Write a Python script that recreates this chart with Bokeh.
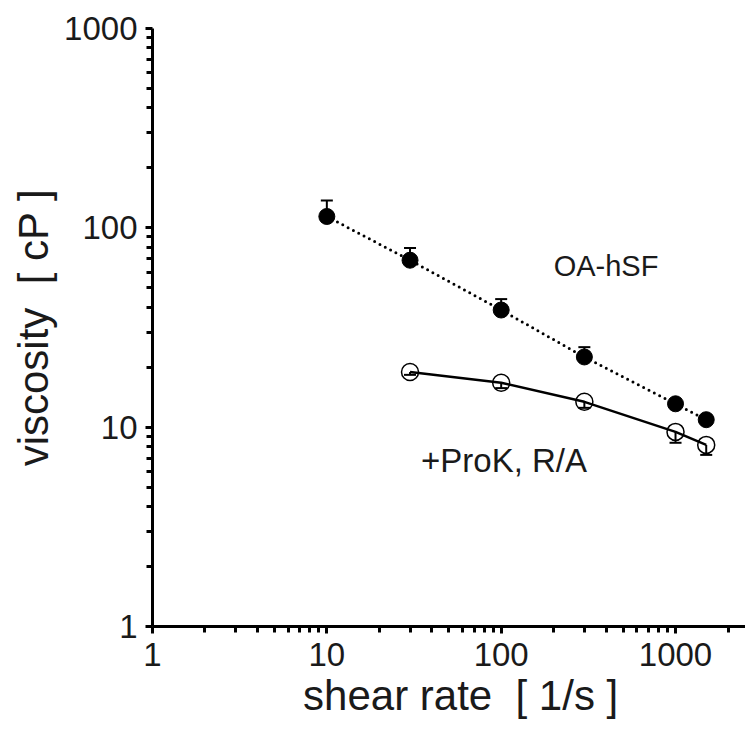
from bokeh.plotting import figure
from bokeh.models import Whisker, ColumnDataSource, FixedTicker, NumeralTickFormatter, Label, TeeHead
from bokeh.embed import file_html
from bokeh.resources import INLINE

# ---- data ----
shear_filled = [10, 30, 100, 300, 1000, 1500]
visc_filled = [114, 68.8, 38.7, 22.5, 13.1, 10.9]
visc_filled_upper = [137, 79.3, 43.9, 25.2, 13.1, 10.9]

shear_open = [30, 100, 300, 1000, 1500]
visc_open = [18.9, 16.7, 13.4, 9.47, 8.15]
visc_open_lower = [18.3, 15.7, 12.5, 8.35, 7.26]

x_major = [1, 10, 100, 1000]
x_minor = [2, 3, 4, 5, 6, 7, 8, 9, 20, 30, 40, 50, 60, 70, 80, 90,
           200, 300, 400, 500, 600, 700, 800, 900, 2000]
y_major = [1, 10, 100, 1000]
y_minor = [2, 3, 4, 5, 6, 7, 8, 9, 20, 30, 40, 50, 60, 70, 80, 90,
           200, 300, 400, 500, 600, 700, 800, 900]

label_filled = "OA-hSF"
label_open = "+ProK, R/A"
label_filled_pos = (200, 64)
label_open_pos = (34.7, 6.8)

FONT = "Liberation Sans"
NB = "\u00a0"
x_title = NB + NB + "shear rate" + NB + NB + "[ 1/s ]"
y_title = "viscosity" + NB + NB + "[ cP ]"

p = figure(width=745, height=721, x_axis_type="log", y_axis_type="log",
           x_range=(1, 2520), y_range=(1, 1000),
           output_backend="svg", toolbar_location=None,
           min_border_left=152, min_border_right=0, min_border_top=28, min_border_bottom=93)
p.outline_line_color = None
p.xgrid.visible = False
p.ygrid.visible = False
p.background_fill_color = "white"
p.border_fill_color = "white"

for ax, maj, mino in ((p.xaxis[0], x_major, x_minor), (p.yaxis[0], y_major, y_minor)):
    ax.ticker = FixedTicker(ticks=maj, minor_ticks=mino)
    ax.formatter = NumeralTickFormatter(format="0")
    ax.axis_line_width = 3
    ax.axis_line_color = "black"
    ax.major_tick_line_width = 3
    ax.minor_tick_line_width = 3
    ax.major_tick_line_color = "black"
    ax.minor_tick_line_color = "black"
    ax.major_tick_in = 0
    ax.major_tick_out = 7
    ax.minor_tick_in = 0
    ax.minor_tick_out = 6
    ax.major_label_text_font = FONT
    ax.major_label_text_font_size = "33px"
    ax.major_label_text_color = "#1a1a1a"
    ax.axis_label_text_font = FONT
    ax.axis_label_text_font_size = "42px"
    ax.axis_label_text_font_style = "normal"
    ax.axis_label_text_color = "#1a1a1a"

p.xaxis.axis_label = x_title
p.yaxis.axis_label = y_title
p.xaxis.major_label_standoff = 9
p.yaxis.major_label_standoff = 8
p.xaxis.axis_label_standoff = 3
p.yaxis.axis_label_standoff = 4

src_f = ColumnDataSource(dict(x=shear_filled, y=visc_filled, up=visc_filled_upper))
src_o = ColumnDataSource(dict(x=shear_open, y=visc_open, lo=visc_open_lower))

# lines
p.line("x", "y", source=src_f, line_color="black", line_width=3, line_dash="0 6", line_cap="round")
p.line("x", "y", source=src_o, line_color="black", line_width=2.5)

# error bars
wf = Whisker(base="x", lower="y", upper="up", source=src_f, dimension="height",
             line_width=2, line_color="black",
             upper_head=TeeHead(size=12, line_width=2, line_color="black"), lower_head=None)
wo = Whisker(base="x", lower="lo", upper="y", source=src_o, dimension="height",
             line_width=2, line_color="black",
             lower_head=TeeHead(size=12, line_width=2, line_color="black"), upper_head=None)
p.add_layout(wf)
p.add_layout(wo)

# markers
p.scatter("x", "y", source=src_f, size=16, marker="circle", fill_color="black", line_color="black")
p.scatter("x", "y", source=src_o, size=17, marker="circle", fill_alpha=0, line_color="black", line_width=1.5)

p.add_layout(Label(x=label_filled_pos[0], y=label_filled_pos[1], text=label_filled,
                   text_font=FONT, text_font_size="29px", text_color="#1a1a1a",
                   text_baseline="alphabetic"))
p.add_layout(Label(x=label_open_pos[0], y=label_open_pos[1], text=label_open,
                   text_font=FONT, text_font_size="33px", text_color="#1a1a1a",
                   text_baseline="alphabetic"))

open("out.html", "w").write(file_html(p, INLINE))
